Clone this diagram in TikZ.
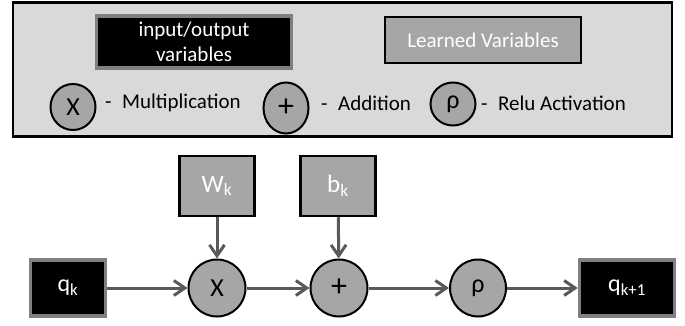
\documentclass[tikz,border=0pt]{standalone}
\usepackage{fontspec}
\setmainfont{Carlito}
\usetikzlibrary{shapes.geometric,arrows.meta,shadows}
\definecolor{legendgray}{HTML}{D9D9D9}
\definecolor{learngray}{HTML}{A6A6A6}
\definecolor{edgegray}{HTML}{7F7F7F}
\definecolor{arrowgray}{HTML}{595959}
\newcommand{\bigplus}{{\fontsize{32}{32}\selectfont +}}
\tikzset{
  iobox/.style={draw=edgegray,line width=3.5pt,fill=black,text=white,inner sep=0pt,
    drop shadow={opacity=0.35,shadow xshift=1pt,shadow yshift=-2pt},
    minimum width=#1,minimum height=56pt,font=\fontsize{24}{26}\selectfont},
  learnbox/.style={draw=black,line width=2.5pt,fill=learngray,text=white,inner sep=0pt,
    minimum width=75pt,minimum height=60pt,font=\fontsize{25}{27}\selectfont},
  opnode/.style={ellipse,draw=black,line width=2pt,fill=learngray,inner sep=0pt,
    minimum width=#1,minimum height=57pt,font=\fontsize{26}{28}\selectfont},
  legnode/.style={ellipse,draw=black,line width=2pt,fill=learngray,inner sep=0pt,
    minimum width=45pt,font=\fontsize{26}{28}\selectfont},
  legtext/.style={anchor=west,inner sep=0pt,font=\fontsize{21}{23}\selectfont},
  flow/.style={draw=arrowgray,line width=3pt,-{Straight Barb[length=11pt,width=15pt]}}
}
\begin{document}
\begin{tikzpicture}[x=1pt,y=-1pt]
  \useasboundingbox (0,0) rectangle (685,326);
  % legend
  \node[draw=black,line width=2.5pt,fill=legendgray,minimum width=659pt,
    minimum height=134pt] (legend) at (342.5,69.5) {};
  \node[iobox=195pt,minimum height=52pt,align=center,font=\fontsize{21}{25}\selectfont]
    (iolegend) at (194,42) {input/output\\variables};
  \node[draw=black,line width=2.5pt,fill=learngray,text=white,minimum width=196pt,
    minimum height=46pt,inner sep=0pt,font=\fontsize{21}{23}\selectfont] (learnlegend) at (483,40) {Learned Variables};
  \node[legnode,minimum height=46pt] (multlegend) at (73,107) {X};
  \node[legnode,minimum height=51pt] (addlegend) at (286,108) {\raisebox{-3pt}{\bigplus}};
  \node[legnode,minimum height=43pt] (relulegend) at (453,104) {ρ};
  \node[legtext] (multtext) at (105,103) {-\enspace Multiplication};
  \node[legtext] (addtext) at (321,103) {-\enspace Addition};
  \node[legtext] (relutext) at (481,103) {-\enspace Relu Activation};
  % layer
  \node[iobox=75pt] (qk) at (68,288) {q\textsubscript{k}};
  \node[opnode=57pt] (mult) at (217,288) {X};
  \node[opnode=57pt] (add) at (339,288) {\bigplus};
  \node[opnode=56pt] (relu) at (478,288) {ρ};
  \node[iobox=95pt] (qnext) at (627,288) {q\textsubscript{k+1}};
  \node[learnbox] (wk) at (217,186) {W\textsubscript{k}};
  \node[learnbox] (bk) at (338,186) {b\textsubscript{k}};
  \draw[flow] (qk) -- (mult);
  \draw[flow] (mult) -- (add);
  \draw[flow] (add) -- (relu);
  \draw[flow] (relu) -- (qnext);
  \draw[flow] (wk) -- (mult);
  \draw[flow] (bk) -- (add);
\end{tikzpicture}
\end{document}
